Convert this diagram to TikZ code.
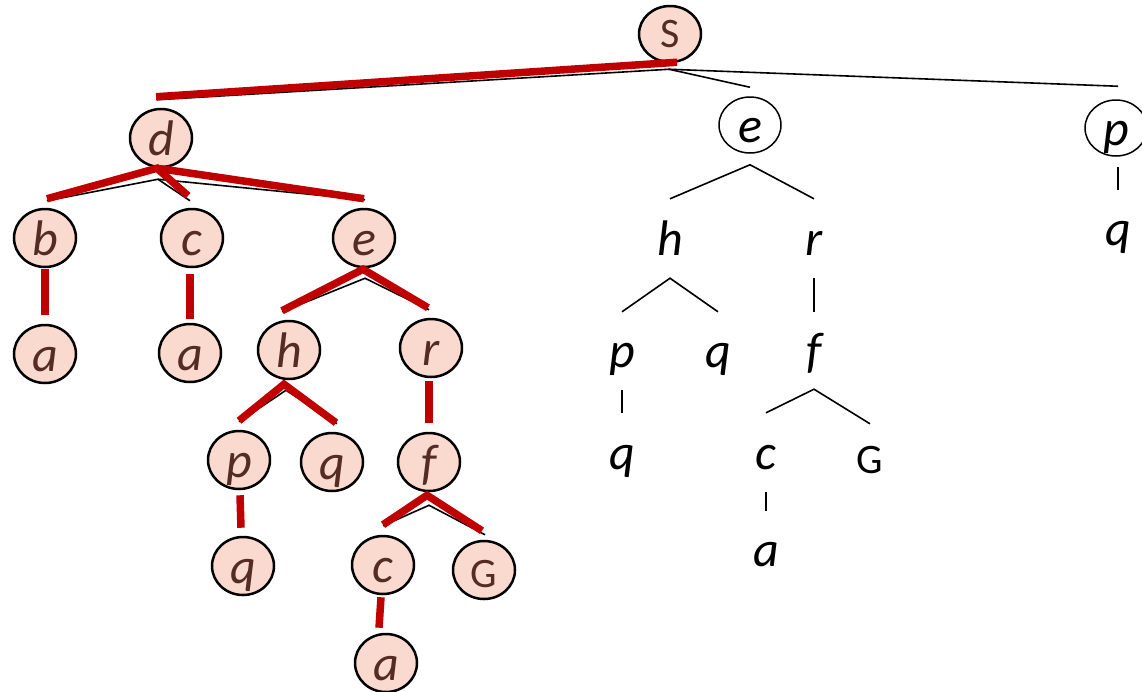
\documentclass[tikz,border=0pt]{standalone}
\usepackage{fontspec}
\setmainfont{Carlito}
\usetikzlibrary{shapes.geometric}
\definecolor{nodefill}{RGB}{250,217,207}
\definecolor{nodetext}{RGB}{84,44,34}
\definecolor{pathred}{RGB}{192,0,0}
\begin{document}
\begin{tikzpicture}[x=1pt,y=-1pt,
  ital/.style={font=\fontsize{50}{50}\selectfont\itshape},
  upr/.style={font=\fontsize{42}{42}\selectfont},
  pinknode/.style={ellipse, draw=black, line width=2.5pt, fill=nodefill, text=nodetext,
    minimum width=62pt, minimum height=58pt, inner sep=0pt, text height=34pt, text depth=0pt},
  ringnode/.style={ellipse, draw=black, line width=1.5pt, text=black,
    minimum width=62pt, minimum height=56pt, inner sep=0pt, text height=34pt, text depth=0pt},
  plain/.style={anchor=base, inner sep=0pt, text height=34pt, text depth=0pt, text=black},
  redpath/.style={draw=pathred, line width=7.5pt},
  thin/.style={draw=black, line width=1.6pt}]
\useasboundingbox (0,0) rectangle (1142,691);
\clip (0,0) rectangle (1142,691);

% ---------- left (highlighted) tree ----------
\node[pinknode, upr, minimum height=56pt, text height=26pt] (S) at (670,34) {S};
\node[pinknode, ital] (d) at (161,138) {d};
\node[pinknode, ital] (b) at (45,238) {b};
\node[pinknode, ital] (c) at (192,238) {c};
\node[pinknode, ital] (eL) at (364,238) {e};
\node[pinknode, ital] (a1) at (45,354) {a};
\node[pinknode, ital] (a2) at (190,353) {a};
\node[pinknode, ital] (h) at (289,350) {h};
\node[pinknode, ital] (r) at (431,348) {r};
\node[pinknode, ital] (p) at (239,460) {p};
\node[pinknode, ital] (q1) at (332,462) {q};
\node[pinknode, ital] (f) at (429,462) {f};
\node[pinknode, ital] (q2) at (243,566) {q};
\node[pinknode, ital] (c2) at (383,565) {c};
\node[pinknode, upr] (G) at (484,570) {G};
\node[pinknode, ital] (a3) at (386,663) {a};

% ---------- right (plain) tree ----------
\node[ringnode, ital] (eR) at (750,125) {e};
\node[ringnode, ital] (pR) at (1116,128) {p};
\node[plain, ital] (hR) at (670,255) {h};
\node[plain, ital] (rR) at (814,255) {r};
\node[plain, ital] (pp) at (622,367) {p};
\node[plain, ital] (qq) at (718,367) {q};
\node[plain, ital] (fR) at (814,367) {f};
\node[plain, ital] (qp) at (622,469) {q};
\node[plain, ital] (cR) at (766,469) {c};
\node[plain, upr] (GR) at (870,473) {G};
\node[plain, ital] (aR) at (766,566) {a};
\node[plain, ital] (qR) at (1118,245) {q};

% ---------- thin black connectors ----------
\coordinate (Sap) at ([xshift=-1pt,yshift=-6pt]S.south);
\draw[thin] (Sap) -- ([xshift=-4pt,yshift=8pt]d.north);
\draw[thin] (Sap) -- ([yshift=9pt]eR.north);
\draw[thin] (Sap) -- ([xshift=2pt,yshift=13pt]pR.north);

\coordinate (dap) at ([xshift=-3pt,yshift=-11pt]d.south);
\draw[thin] ([xshift=2pt,yshift=7pt]b.north) -- (dap) -- ([xshift=-2pt,yshift=7pt]c.north);
\draw[thin] (dap) -- ([xshift=1pt,yshift=8pt]eL.north);
\coordinate (eap) at ([xshift=1pt,yshift=-10pt]eL.south);
\draw[thin] ([xshift=-7pt,yshift=8pt]h.north) -- (eap) -- ([xshift=-2pt,yshift=8pt]r.north);
\coordinate (hap) at ([xshift=-3pt,yshift=-10pt]h.south);
\draw[thin] ([yshift=8pt]p.north) -- (hap) -- ([xshift=5pt,yshift=8pt]q1.north);
\coordinate (fap) at ([yshift=-13pt]f.south);
\draw[thin] ([yshift=9pt]c2.north) -- (fap) -- ([xshift=1pt,yshift=5pt]G.north);

\coordinate (eRap) at ([yshift=-11pt]eR.south);
\draw[thin] ([yshift=22pt]hR.north) -- (eRap) -- ([yshift=22pt]rR.north);
\coordinate (hRap) at ([yshift=-23pt]hR.south);
\draw[thin] ([yshift=21pt]pp.north) -- (hRap) -- ([yshift=21pt]qq.north);
\draw[thin] ([yshift=-23pt]rR.south) -- ([yshift=21pt]fR.north);
\draw[thin] ([yshift=-23pt]pp.south) -- ([yshift=22pt]qp.north);
\coordinate (fRap) at ([yshift=-22pt]fR.south);
\draw[thin] ([yshift=22pt]cR.north) -- (fRap) -- ([yshift=15pt]GR.north);
\draw[thin] ([yshift=-23pt]cR.south) -- ([yshift=21pt]aR.north);
\draw[thin] ([xshift=2pt,yshift=-10pt]pR.south) -- ([yshift=21pt]qR.north);

% ---------- red highlighted path ----------
\draw[redpath] ([xshift=7pt,yshift=1pt]S.south) -- ([xshift=-5pt,yshift=11pt]d.north);
\coordinate (dr) at ([xshift=-4pt]d.south);
\draw[redpath] ([xshift=2pt,yshift=9pt]b.north) -- (dr) -- ([xshift=-4pt,yshift=12pt]c.north);
\draw[redpath] (dr) -- ([yshift=9pt]eL.north);
\draw[redpath] ([yshift=-1pt]b.south) -- ([yshift=9pt]a1.north);
\draw[redpath] ([xshift=-2pt,yshift=-6pt]c.south) -- ([yshift=4pt]a2.north);
\coordinate (er) at ([xshift=-1pt,yshift=-1pt]eL.south);
\draw[redpath] ([xshift=-7pt,yshift=9pt]h.north) -- (er) -- ([xshift=-3pt,yshift=10pt]r.north);
\coordinate (hr) at ([xshift=-5pt,yshift=-4pt]h.south);
\draw[redpath] ([yshift=9pt]p.north) -- (hr) -- ([xshift=4pt,yshift=9pt]q1.north);
\draw[redpath] ([xshift=-2pt,yshift=-3pt]r.south) -- ([yshift=9pt]f.north);
\draw[redpath] ([xshift=1pt,yshift=-5pt]p.south) -- ([xshift=-2pt,yshift=8pt]q2.north);
\coordinate (fr) at ([xshift=-2pt,yshift=-3pt]f.south);
\draw[redpath] ([yshift=10pt]c2.north) -- (fr) -- ([xshift=-2pt,yshift=9pt]G.north);
\draw[redpath] ([xshift=-2pt,yshift=-2pt]c2.south) -- ([xshift=-7pt,yshift=5pt]a3.north);
\end{tikzpicture}
\end{document}
